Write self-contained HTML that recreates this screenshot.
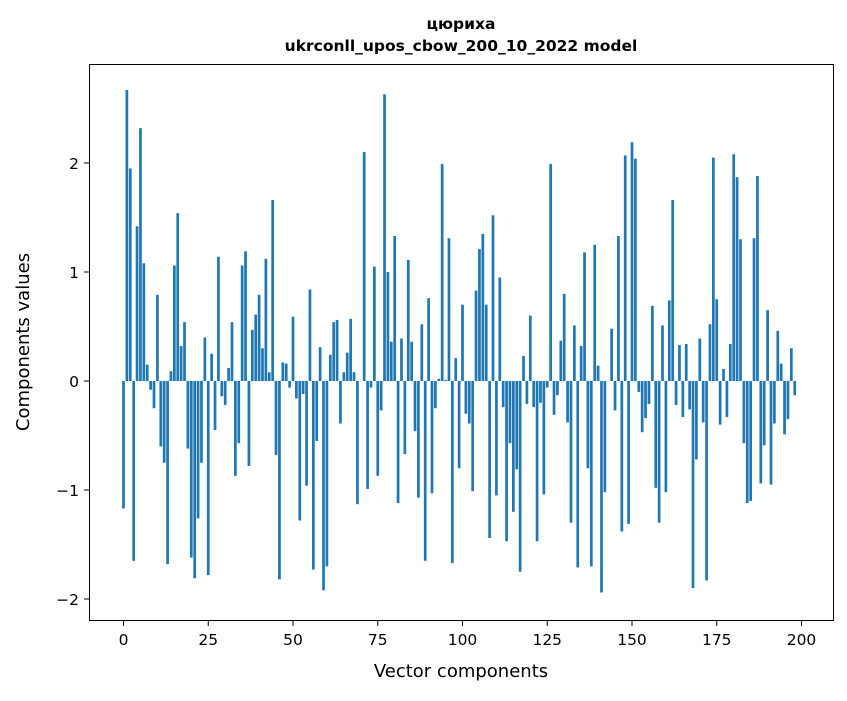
<!DOCTYPE html>
<html><head><meta charset="utf-8"><style>
body{margin:0;background:#fff;}
svg text{font-family:"DejaVu Sans","Liberation Sans",sans-serif;}
</style></head><body>
<svg id="chart" width="847" height="696" xmlns="http://www.w3.org/2000/svg">
<rect width="847" height="696" fill="#fff"/>
<text x="461" y="29" text-anchor="middle" font-size="15.5" font-weight="bold">цюриха</text>
<text x="461" y="51" text-anchor="middle" font-size="15.5" font-weight="bold">ukrconll_upos_cbow_200_10_2022 model</text>
<g id="bars"></g>
<g id="axes"></g>
<rect x="89.5" y="64.5" width="744" height="556" fill="none" stroke="#000" stroke-width="1"/>
<text x="461" y="677" text-anchor="middle" font-size="18">Vector components</text>
<text transform="translate(29,342) rotate(-90)" text-anchor="middle" font-size="18">Components values</text>
</svg>
<script>
const values = [-1.17,2.67,1.95,-1.65,1.42,2.32,1.08,0.15,-0.08,-0.25,0.79,-0.6,-0.75,-1.68,0.09,1.06,1.54,0.32,0.54,-0.62,-1.62,-1.81,-1.26,-0.75,0.40,-1.78,0.25,-0.45,1.14,-0.14,-0.22,0.12,0.54,-0.87,-0.57,1.06,1.19,-0.78,0.47,0.61,0.79,0.30,1.12,0.08,1.66,-0.68,-1.82,0.17,0.16,-0.06,0.59,-0.16,-1.28,-0.12,-0.96,0.84,-1.73,-0.55,0.31,-1.92,-1.70,0.24,0.54,0.56,-0.39,0.08,0.26,0.57,0.08,-1.13,0.0,2.10,-0.99,-0.06,1.05,-0.87,-0.27,2.63,1.00,0.36,1.33,-1.12,0.39,-0.67,1.11,0.36,-0.46,-1.07,0.52,-1.65,0.76,-1.03,-0.25,0.02,1.99,0.01,1.31,-1.67,0.21,-0.80,0.70,-0.30,-0.39,-1.01,0.83,1.21,1.35,0.70,-1.44,1.52,-1.05,0.95,-0.24,-1.47,-0.57,-1.20,-0.81,-1.75,0.23,-0.21,0.60,-0.24,-1.47,-0.20,-1.04,-0.06,1.99,-0.31,-0.13,0.37,0.80,-0.38,-1.30,0.51,-1.71,0.32,1.18,-0.80,-1.70,1.25,0.14,-1.94,-1.02,0.0,0.48,-0.27,1.33,-1.38,2.07,-1.31,2.19,2.04,-0.10,-0.47,-0.34,-0.21,0.69,-0.98,-1.30,0.51,-1.02,0.74,1.66,-0.22,0.33,-0.33,0.34,-0.26,-1.90,-0.72,0.39,-0.38,-1.83,0.52,2.05,0.75,-0.40,0.11,-0.33,0.34,2.08,1.87,1.30,-0.57,-1.12,-1.10,1.31,1.88,-0.94,-0.59,0.65,-0.95,-0.39,0.46,0.16,-0.49,-0.35,0.30,-0.13];
const xTicks = [0,25,50,75,100,125,150,175,200];
const yTicks = [-2,-1,0,1,2];
const yTickLabels = ["\u22122","\u22121","0","1","2"];
const NS="http://www.w3.org/2000/svg";
function xs(v){return 123.5+v*3.39;}
function ys(v){return 381-v*109;}
const bars=document.getElementById('bars');
values.forEach((v,i)=>{
  const r=document.createElementNS(NS,'rect');
  
  
  const w=0.8*3.39;
  r.setAttribute('x',xs(i)-w/2);
  r.setAttribute('width',w);
  r.setAttribute('y',Math.min(ys(v),ys(0)));
  r.setAttribute('height',Math.abs(ys(v)-ys(0)));
  r.setAttribute('fill','#1f77b4');
  bars.appendChild(r);
});
const axes=document.getElementById('axes');
xTicks.forEach(t=>{
  const l=document.createElementNS(NS,'line');
  
  
  l.setAttribute('x1',xs(t));l.setAttribute('x2',xs(t));
  l.setAttribute('y1',620.5);l.setAttribute('y2',626);
  l.setAttribute('stroke','#000');
  axes.appendChild(l);
  const tx=document.createElementNS(NS,'text');
  
  
  tx.setAttribute('x',xs(t));tx.setAttribute('y',645);
  tx.setAttribute('text-anchor','middle');tx.setAttribute('font-size','15.5');
  tx.textContent=t;
  axes.appendChild(tx);
});
yTicks.forEach((t,i)=>{
  const l=document.createElementNS(NS,'line');
  
  
  l.setAttribute('x1',84);l.setAttribute('x2',89.5);
  l.setAttribute('y1',ys(t));l.setAttribute('y2',ys(t));
  l.setAttribute('stroke','#000');
  axes.appendChild(l);
  const tx=document.createElementNS(NS,'text');
  
  
  tx.setAttribute('x',79);tx.setAttribute('y',ys(t)+6);
  tx.setAttribute('text-anchor','end');tx.setAttribute('font-size','15.5');
  tx.textContent=yTickLabels[i];
  axes.appendChild(tx);
});
</script>
</body></html>
